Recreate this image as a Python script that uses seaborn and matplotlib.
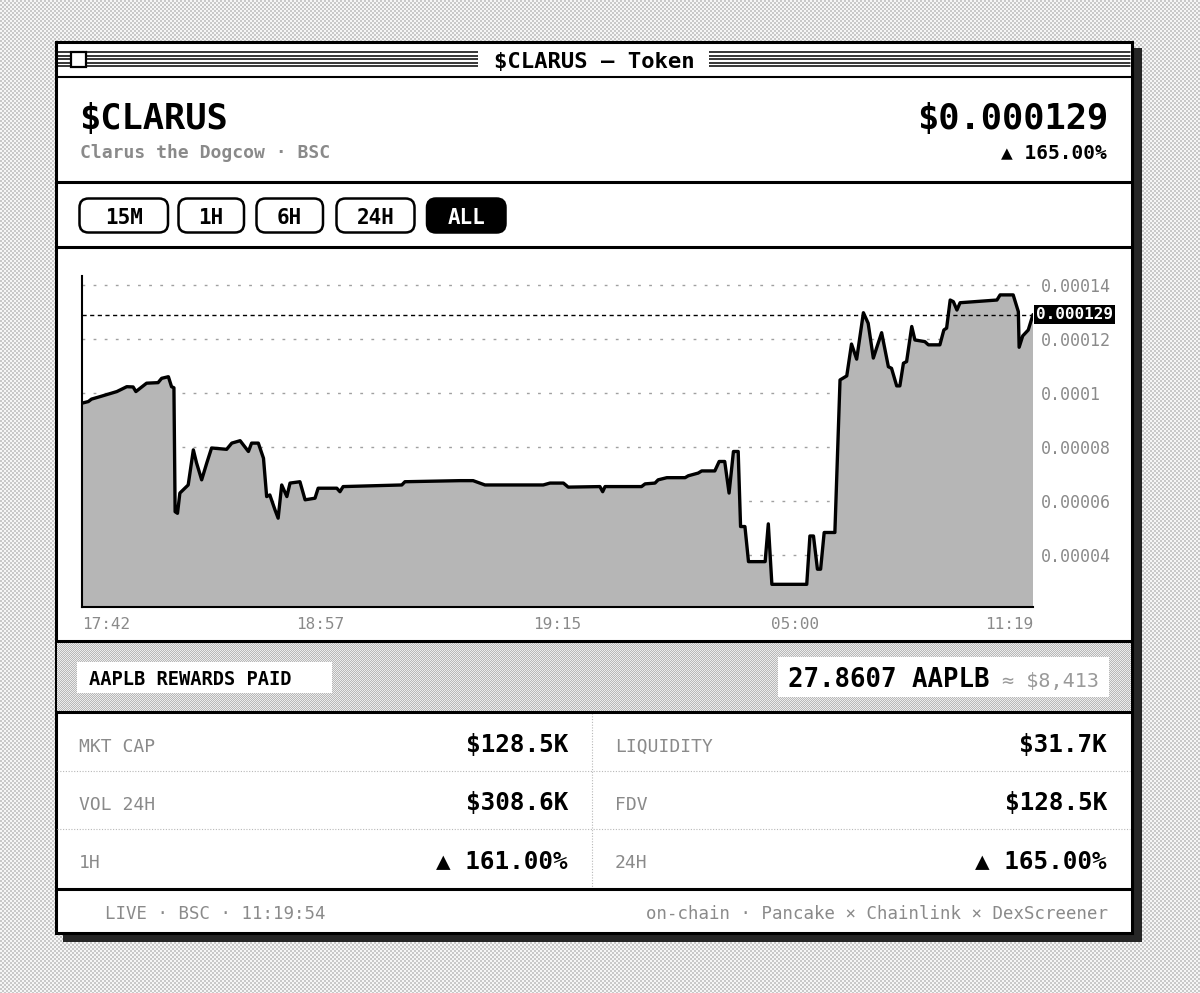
import numpy as np
import pandas as pd
import matplotlib.pyplot as plt
import matplotlib.colors as mcolors
import seaborn as sns
from matplotlib.patches import Rectangle, FancyBboxPatch

# price feed: sample index along the session and price in 1e-6 USD
step = [0, 1.6, 2.4, 4.5, 8.8, 11.3, 12.9, 13.6, 16.3, 19.2,
        20.1, 21.8, 22.6, 23.2, 23.5, 24.1, 24.7, 26.8, 28.1, 28.9,
        30.2, 31.5, 32.7, 36.5, 37.8, 39.9, 42.0, 42.8, 44.5, 45.8,
        46.6, 47.4, 48.7, 49.5, 50.4, 51.7, 52.5, 55.0, 56.3, 58.8,
        59.6, 64.3, 65.1, 65.9, 80.7, 81.5, 95.4, 98.7, 101.7, 116.4,
        118.1, 121.5, 122.7, 130.7, 131.4, 132.0, 141.2, 142.1, 144.6, 145.4,
        147.6, 152.2, 153.0, 155.5, 156.4, 159.7, 160.8, 162.2, 163.3, 164.4,
        165.6, 166.2, 167.3, 168.2, 172.4, 173.2, 174.1, 182.9, 183.7, 184.6,
        185.6, 186.4, 187.3, 190.0, 191.3, 193.0, 194.2, 195.5, 197.2, 198.4,
        199.7, 200.7, 201.8, 203.5, 204.3, 205.6, 206.4, 207.3, 208.1, 209.4,
        210.2, 212.7, 213.6, 216.5, 217.5, 218.2, 219.1, 219.9, 220.8, 221.6,
        230.9, 231.7, 235.0, 236.3, 236.5, 237.4, 238.8, 240.0]
price_u = [96.2, 96.8, 97.7, 98.6, 100.5, 102.3, 102.2, 100.5, 103.6, 103.8,
           105.4, 106.0, 102.3, 101.9, 56.0, 55.4, 62.9, 65.9, 78.9, 74.1,
           67.8, 74.1, 79.6, 79.1, 81.4, 82.3, 78.3, 81.4, 81.4, 75.8,
           61.6, 62.2, 56.7, 53.6, 65.9, 61.6, 66.6, 67.1, 60.4, 61.0,
           64.7, 64.7, 63.4, 65.3, 65.9, 67.1, 67.5, 67.5, 65.9, 65.9,
           66.6, 66.6, 65.1, 65.3, 63.4, 65.3, 65.3, 66.3, 66.6, 67.8,
           68.6, 68.6, 69.3, 70.3, 71.1, 71.1, 74.6, 74.6, 62.9, 78.3,
           78.3, 50.5, 50.5, 37.5, 37.5, 51.5, 29.1, 29.1, 47.0, 47.0,
           34.7, 34.7, 48.3, 48.3, 104.8, 106.3, 118.1, 112.5, 129.7, 125.8,
           112.9, 117.4, 122.3, 109.7, 109.1, 102.6, 102.6, 111.0, 111.6, 124.6,
           119.6, 119.0, 117.8, 117.8, 123.3, 124.0, 134.4, 133.8, 130.7, 133.4,
           134.4, 136.3, 136.3, 130.1, 116.9, 121.1, 123.3, 129.0]

x_ticks = [0, 60, 120, 180, 240]
x_labels = ["17:42", "18:57", "19:15", "05:00", "11:19"]
y_ticks_u = [140, 120, 100, 80, 60, 40]
y_labels = ["0.00014", "0.00012", "0.0001", "0.00008", "0.00006", "0.00004"]
last_price = 0.000129
last_label = "0.000129"

ranges = ["15M", "1H", "6H", "24H", "ALL"]
active_range = "ALL"
stats_left = [("MKT CAP", "$128.5K"), ("VOL 24H", "$308.6K"), ("1H", "▲ 161.00%")]
stats_right = [("LIQUIDITY", "$31.7K"), ("FDV", "$128.5K"), ("24H", "▲ 165.00%")]

GRAY = "#8a8a8a"


def checker(h, w, block, c1, c2):
    yy, xx = np.indices((h, w))
    m = ((yy // block + xx // block) % 2 == 0)[..., None]
    return np.where(m, np.array(mcolors.to_rgb(c1)), np.array(mcolors.to_rgb(c2)))


sns.set_theme(style="white")
plt.rcParams["font.family"] = ["DejaVu Sans Mono", "DejaVu Sans"]
plt.rcParams["text.color"] = "black"

fig = plt.figure(figsize=(12, 9.93), dpi=100)
# dithered desktop, placed pixel for pixel
fig.figimage(checker(993, 1200, 2, "#c9c9c9", "#f6f6f6"), xo=0, yo=0, zorder=-1)

# whole-figure layer in pixel units for the window chrome
ui = fig.add_axes([0, 0, 1, 1])
ui.axis("off")


def box(x0, y0, x1, y1, **kw):
    ui.add_patch(Rectangle((x0, y0), x1 - x0, y1 - y0, **kw))


def hline(y, lw=2.2, **kw):
    ui.plot([56, 1132], [y, y], color="black", lw=lw, solid_capstyle="butt", zorder=6, **kw)


box(63, 48, 1142, 942, fc="#262626", ec="none", zorder=1)
box(55.5, 41.5, 1131.5, 932.5, fc="white", ec="black", lw=2.2, zorder=2)

# title bar
for k in range(5):
    ui.plot([57, 1130], [52 + 3.6 * k] * 2, color="black", lw=1.1, zorder=3)
box(478, 46, 709, 73, fc="white", ec="none", zorder=4)
box(70.5, 51.5, 85.5, 67, fc="white", ec="black", lw=1.6, zorder=4)
ui.text(594, 68, "$CLARUS — Token", ha="center", va="baseline", fontsize=16,
        weight="bold", color="black", zorder=5)
hline(77, lw=1.5)

# header
ui.text(79, 129, "$CLARUS", ha="left", va="baseline", fontsize=25.5, weight="bold", zorder=5)
ui.text(80, 158, "Clarus the Dogcow · BSC", ha="left", va="baseline", fontsize=13,
        weight="bold", color=GRAY, zorder=5)
ui.text(1108, 129, "$0.000129", ha="right", va="baseline", fontsize=25.5, weight="bold", zorder=5)
ui.text(1107, 158, "▲ 165.00%", ha="right", va="baseline", fontsize=14, weight="bold", zorder=5)
hline(181.5)

# range buttons
btn_edges = [(79.5, 168), (178.5, 244), (256.5, 323), (336.5, 414.5), (427, 505.5)]
for label, (bx0, bx1) in zip(ranges, btn_edges):
    on = label == active_range
    ui.add_patch(FancyBboxPatch((bx0, 198.5), bx1 - bx0, 34,
                                boxstyle="round,pad=0,rounding_size=9",
                                fc="black" if on else "white", ec="black", lw=1.8, zorder=5))
    ui.text((bx0 + bx1) / 2, 223.5, label, ha="center", va="baseline", fontsize=15,
            weight="bold", color="white" if on else "black", zorder=6)
hline(247)
hline(641)

# rewards band
ui.imshow(checker(69, 1074, 1, "#b8b8b8", "#ececec"), extent=(57, 1131, 711, 642),
          interpolation="nearest", aspect="auto", zorder=3)
box(77, 662, 332, 692.5, fc="white", ec="none", zorder=4)
ui.text(89, 685, "AAPLB REWARDS PAID", ha="left", va="baseline", fontsize=13.5,
        weight="bold", zorder=5)
box(778, 657, 1109, 697, fc="white", ec="none", zorder=4)
ui.text(788, 687, "27.8607 AAPLB", ha="left", va="baseline", fontsize=18.5,
        weight="bold", zorder=5)
ui.text(1099, 687, "≈ $8,413", ha="right", va="baseline", fontsize=14.5,
        color="#9a9a9a", zorder=5)
hline(711.5)

# stats grid
for y in (771, 829):
    ui.plot([57, 1130], [y, y], color="#b8b8b8", lw=0.8, ls=(0, (1, 1.5)), zorder=4)
ui.plot([592, 592], [713, 887], color="#b8b8b8", lw=0.8, ls=(0, (1, 1.5)), zorder=4)
for i, ((ll, lv), (rl, rv)) in enumerate(zip(stats_left, stats_right)):
    base = 752 + 58 * i
    ui.text(79, base, ll, ha="left", va="baseline", fontsize=13, color=GRAY, zorder=5)
    ui.text(568, base, lv, ha="right", va="baseline", fontsize=17.5, weight="bold", zorder=5)
    ui.text(615, base, rl, ha="left", va="baseline", fontsize=13, color=GRAY, zorder=5)
    ui.text(1107, base, rv, ha="right", va="baseline", fontsize=17.5, weight="bold", zorder=5)
hline(889)

# footer
ui.text(105, 919, "LIVE · BSC · 11:19:54", ha="left", va="baseline", fontsize=12.5,
        color=GRAY, zorder=5)
ui.text(1108, 919, "on-chain · Pancake × Chainlink × DexScreener", ha="right",
        va="baseline", fontsize=12.5, color=GRAY, zorder=5)

ui.set_xlim(0, 1200)
ui.set_ylim(993, 0)

# price chart
df = pd.DataFrame({"step": step, "price": np.array(price_u) * 1e-6})
ylo, yhi = 20.7e-6, 143.3e-6

ax = fig.add_axes([82 / 1200, (993 - 607) / 993, 951 / 1200, 331 / 993])
ax.set_facecolor("white")
ax.fill_between(df["step"], df["price"], ylo, facecolor="#b6b6b6", edgecolor="none", zorder=1)

sns.lineplot(data=df, x="step", y="price", ax=ax, color="black", lw=2.4, zorder=5,
             solid_joinstyle="round")
ax.axhline(last_price, color="black", lw=1.0, ls=(0, (3, 2.5)), zorder=4)

ax.set_xlim(0, 240)
ax.set_ylim(ylo, yhi)
ax.set_axisbelow(True)
ax.grid(axis="y", color="#a0a0a0", lw=1.0, ls=(0, (2, 6)))
ax.grid(axis="x", visible=False)
ax.spines[["top", "right"]].set_visible(False)
for s in ("left", "bottom"):
    ax.spines[s].set_color("black")
    ax.spines[s].set_linewidth(1.5)

ax.set_yticks([v * 1e-6 for v in y_ticks_u])
ax.set_yticklabels(y_labels)
ax.yaxis.tick_right()
ax.tick_params(axis="y", length=0, pad=6, labelsize=12, labelcolor=GRAY)
ax.set_xticks(x_ticks)
ax.set_xticklabels(x_labels)
ax.tick_params(axis="x", length=0, pad=7, labelsize=11.5, labelcolor=GRAY)
xl = ax.get_xticklabels()
xl[0].set_ha("left")
xl[-1].set_ha("right")
ax.set_xlabel("")
ax.set_ylabel("")

ax.text(1.003, last_price, last_label, transform=ax.get_yaxis_transform(), ha="left",
        va="center", color="white", weight="bold", fontsize=11.5, zorder=10, clip_on=False,
        bbox=dict(boxstyle="square,pad=0.12", fc="black", ec="none"))

fig.savefig("out.png", dpi=100)
